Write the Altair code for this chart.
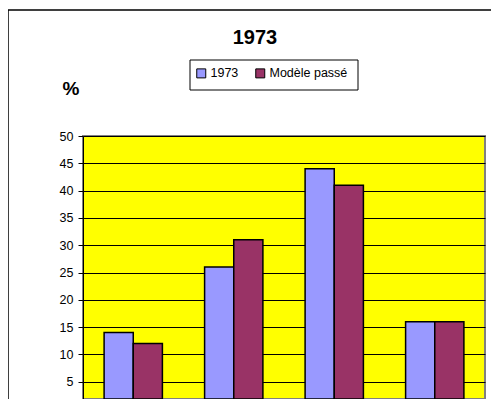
import altair as alt
import pandas as pd

categories = ["A", "B", "C", "D"]
series_names = ["1973", "Modèle passé"]
values_1973 = [14, 26, 44, 16]
values_modele = [12, 31, 41, 16]
y_ticks = [5, 10, 15, 20, 25, 30, 35, 40, 45, 50]

rows = []
for c, v in zip(categories, values_1973):
    rows.append({"cat": c, "serie": series_names[0], "val": v})
for c, v in zip(categories, values_modele):
    rows.append({"cat": c, "serie": series_names[1], "val": v})
df = pd.DataFrame(rows)

FONT = "Liberation Sans"
PLOT_H = 263
Y_MIN = 50 - PLOT_H / 5.46

bars = alt.Chart(df).mark_bar(stroke="black", strokeWidth=1.5, clip=True).encode(
    x=alt.X("cat:N", sort=categories, axis=None,
            scale=alt.Scale(paddingInner=0.42, paddingOuter=0.21)),
    xOffset=alt.XOffset("serie:N", sort=series_names, scale=alt.Scale(paddingInner=0, paddingOuter=0)),
    y=alt.Y("val:Q", scale=alt.Scale(domain=[Y_MIN, 50], nice=False, zero=False),
            axis=alt.Axis(values=y_ticks, title=None, grid=True, gridColor="black", gridOpacity=1,
                          gridWidth=1, domainColor="black", tickColor="black", tickSize=5,
                          labelFont=FONT, labelFontSize=12.5, labelColor="black", labelPadding=5)),
    y2=alt.datum(Y_MIN),
    color=alt.Color("serie:N", sort=series_names,
                    scale=alt.Scale(domain=series_names, range=["#9999FF", "#993366"]),
                    legend=alt.Legend(title=None, orient="none", direction="horizontal",
                                      legendX=112, legendY=-69, padding=0,
                                      symbolType="square", symbolSize=81, symbolStrokeColor="black",
                                      symbolStrokeWidth=1, symbolOffset=0, labelOffset=3, columnPadding=14,
                                      labelFont=FONT, labelFontSize=12.5, labelColor="black")),
)

legend_box = alt.Chart(pd.DataFrame({"a": [0]})).mark_rect(
    fill="white", stroke="black", strokeWidth=1, clip=False
).encode(x=alt.value(107), y=alt.value(-76), x2=alt.value(275), y2=alt.value(-46))

border = alt.Chart(pd.DataFrame({"a": [0]})).mark_rect(
    fill=None, stroke="black", strokeWidth=1.5, clip=False
).encode(x=alt.value(-75), y=alt.value(-126), x2=alt.value(460), y2=alt.value(400))

title = alt.Chart(pd.DataFrame({"t": ["1973"]})).mark_text(
    font=FONT, fontSize=20, fontWeight="bold", color="black", align="center", baseline="middle"
).encode(text="t:N", x=alt.value(172), y=alt.value(-98))

pct = alt.Chart(pd.DataFrame({"t": ["%"]})).mark_text(
    font=FONT, fontSize=19, fontWeight="bold", color="black", align="center", baseline="middle"
).encode(text="t:N", x=alt.value(-12), y=alt.value(-47))

chart = alt.layer(border, legend_box, bars, title, pct).properties(
    width=402, height=PLOT_H,
    autosize=alt.AutoSizeParams(type="none"),
    padding={"left": 75, "top": 128, "right": 6, "bottom": 0},
    background="white",
).configure_view(fill="#FFFF00", stroke="#808080", strokeWidth=2)

chart.save("out.html", embed_options={"renderer": "svg", "actions": False})
